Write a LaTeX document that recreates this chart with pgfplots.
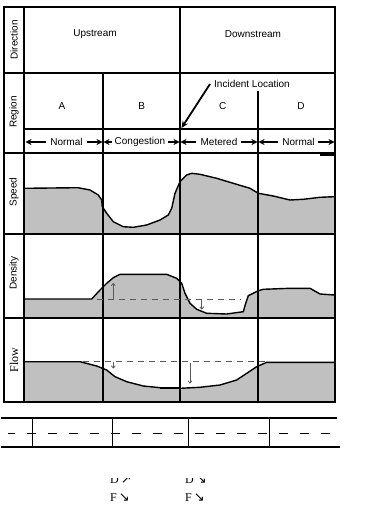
\documentclass[border=0pt]{standalone}
\usepackage{pgfplots}
\pgfplotsset{compat=1.18}
\usepackage{fontspec}
\setmainfont{Liberation Sans}
\newfontfamily\serif{Liberation Serif}
\newfontfamily\dejavu{DejaVu Sans}
\usetikzlibrary{arrows.meta}
\definecolor{fillgray}{RGB}{192,192,192}
\definecolor{arrgray}{RGB}{90,90,90}
\begin{document}
\begin{tikzpicture}
\begin{axis}[width=367pt,height=511pt,scale only axis,
  xmin=0,xmax=367,ymin=0,ymax=511,y dir=reverse,hide axis,clip=false]
\path (rel axis cs:0,0) rectangle (rel axis cs:1,1);
% ---------- Speed ----------
\addplot[fill=fillgray,draw=none] coordinates {
(25,188.3) (78,187.7) (90,190) (98.3,195) (101.7,200) (102.3,206.7) (106.7,213.3)
(113.3,221.7) (123.3,226.7) (133.3,227.3) (146.7,225) (160,220) (168.3,215)
(171.7,208.3) (175,193.3) (180,181.7) (186.7,175) (191.7,173.3) (200,174.3)
(216.7,178.3) (233.3,183.3) (250,188.3) (258.3,193.3) (273.3,196) (290,200)
(303.3,199.3) (320,197.3) (334.3,196.7) (334.3,234) (25,234)} -- cycle;
% ---------- Density ----------
\addplot[fill=fillgray,draw=none] coordinates {
(25,299) (91.7,299) (100,290) (106.7,283.3) (113.3,277.7) (120,274.3) (166.7,274.3)
(176.7,278.3) (181.7,283.3) (185,293.3) (190,303.3) (196.7,309.3) (206.7,313.3)
(226.7,314) (243.3,311.7) (245.7,303.3) (248.3,295.7) (258.3,290.7) (263.3,289.3)
(290,288.3) (310,288.3) (320,294) (334.3,295) (334.3,318) (25,318)} -- cycle;
% ---------- Flow ----------
\addplot[fill=fillgray,draw=none] coordinates {
(25,361.7) (80,361.7) (96.7,366) (106.7,370) (115,376.7) (126.7,381.7) (143.3,386)
(160,387.7) (180,388.3) (200,387.3) (220,385) (236.7,380) (246.7,373.3)
(256.7,366.7) (266.7,362.3) (334.3,362.3) (334.3,402) (25,402)} -- cycle;
% ---------- grid ----------
\draw[line width=1.6pt] (axis cs:4,7) rectangle (axis cs:335,402);
\draw[line width=1.3pt] (axis cs:24,7) -- (axis cs:24,402);
\draw[line width=1.3pt] (axis cs:4,73) -- (axis cs:335,73);
\draw[line width=1.3pt] (axis cs:4,153) -- (axis cs:335,153);
\draw[line width=1.3pt] (axis cs:4,234) -- (axis cs:335,234);
\draw[line width=1.3pt] (axis cs:4,318) -- (axis cs:335,318);
\draw[line width=1.2pt] (axis cs:24,129) -- (axis cs:335,129);
\draw[line width=2pt] (axis cs:180,7) -- (axis cs:180,402);
\draw[line width=1.1pt] (axis cs:103,73) -- (axis cs:103,402);
\draw[line width=1.1pt] (axis cs:258,91) -- (axis cs:258,402);
\draw[line width=2pt] (axis cs:320,155) -- (axis cs:334,155);
% ---------- curves ----------
\addplot[black,line width=1.4pt,mark=none] coordinates {
(25,188.3) (78,187.7) (90,190) (98.3,195) (101.7,200) (102.3,206.7) (106.7,213.3)
(113.3,221.7) (123.3,226.7) (133.3,227.3) (146.7,225) (160,220) (168.3,215)
(171.7,208.3) (175,193.3) (180,181.7) (186.7,175) (191.7,173.3) (200,174.3)
(216.7,178.3) (233.3,183.3) (250,188.3) (258.3,193.3) (273.3,196) (290,200)
(303.3,199.3) (320,197.3) (334.3,196.7)};
\addplot[black,line width=1.4pt,mark=none] coordinates {
(25,299) (91.7,299) (100,290) (106.7,283.3) (113.3,277.7) (120,274.3) (166.7,274.3)
(176.7,278.3) (181.7,283.3) (185,293.3) (190,303.3) (196.7,309.3) (206.7,313.3)
(226.7,314) (243.3,311.7) (245.7,303.3) (248.3,295.7) (258.3,290.7) (263.3,289.3)
(290,288.3) (310,288.3) (320,294) (334.3,295)};
\addplot[black,line width=1.4pt,mark=none] coordinates {
(25,361.7) (80,361.7) (96.7,366) (106.7,370) (115,376.7) (126.7,381.7) (143.3,386)
(160,387.7) (180,388.3) (200,387.3) (220,385) (236.7,380) (246.7,373.3)
(256.7,366.7) (266.7,362.3) (334.3,362.3)};
\addplot[black,line width=2.2pt,mark=none] coordinates {(160,388) (180,388)};
% ---------- dashed reference lines and arrows ----------
\addplot[arrgray,line width=0.9pt,dash pattern=on 6pt off 5pt,mark=none] coordinates {(96.7,299.3) (240,299.3)};
\addplot[arrgray,line width=0.9pt,dash pattern=on 6pt off 5pt,mark=none] coordinates {(83.3,361) (270,361)};
\draw[arrgray,line width=0.8pt,-{To[length=3pt,width=4.5pt]}] (axis cs:113.3,299) -- (axis cs:113.3,283);
\draw[arrgray,line width=0.8pt,-{To[length=3pt,width=4.5pt]}] (axis cs:201.7,299.5) -- (axis cs:201.7,309.5);
\draw[arrgray,line width=0.8pt,-{To[length=3pt,width=4.5pt]}] (axis cs:113.3,361.5) -- (axis cs:113.3,368.5);
\draw[arrgray,line width=0.8pt,-{To[length=3pt,width=4.5pt]}] (axis cs:190,363) -- (axis cs:190,383.5);
% ---------- texts ----------
\node[rotate=90,font=\fontsize{10}{12}\selectfont] at (axis cs:14,40) {Direction};
\node[rotate=90,font=\fontsize{10}{12}\selectfont] at (axis cs:14,112) {Region};
\node[rotate=90,font=\fontsize{10}{12}\selectfont] at (axis cs:14,192) {Speed};
\node[rotate=90,font=\fontsize{10}{12}\selectfont] at (axis cs:14,273) {Density};
\node[rotate=90,font=\serif\fontsize{12}{14}\selectfont] at (axis cs:14,360) {Flow};
\node[font=\fontsize{10}{12}\selectfont] at (axis cs:95,34.5) {Upstream};
\node[font=\fontsize{10}{12}\selectfont] at (axis cs:253,34.5) {Downstream};
\node[font=\fontsize{10}{12}\selectfont] at (axis cs:62,106) {A};
\node[font=\fontsize{10}{12}\selectfont] at (axis cs:141.7,106) {B};
\node[font=\fontsize{10}{12}\selectfont] at (axis cs:222.7,106) {C};
\node[font=\fontsize{10}{12}\selectfont] at (axis cs:301,106) {D};
\node[font=\fontsize{10}{12}\selectfont,fill=white,inner sep=1pt] at (axis cs:252,84) {Incident Location};
\draw[line width=1.8pt,-{Stealth[length=7pt,width=6pt]}] (axis cs:210,84) -- (axis cs:181.5,128);
% arrow row
\node[font=\fontsize{10}{12}\selectfont] at (axis cs:66.5,142.3) {Normal};
\node[font=\fontsize{10}{12}\selectfont] at (axis cs:140,142.3) {Congestion};
\node[font=\fontsize{10}{12}\selectfont] at (axis cs:219,142.3) {Metered};
\node[font=\fontsize{10}{12}\selectfont] at (axis cs:298.5,142.3) {Normal};
\begin{scope}[line width=1.4pt]
\draw[-{Stealth[length=6pt,width=6pt]}] (axis cs:46,142) -- (axis cs:25.5,142);
\draw[-{Stealth[length=6pt,width=6pt]}] (axis cs:87,142) -- (axis cs:102.5,142);
\draw[-{Stealth[length=6pt,width=6pt]}] (axis cs:112,142) -- (axis cs:103.5,142);
\draw[-{Stealth[length=6pt,width=6pt]}] (axis cs:168,142) -- (axis cs:179.5,142);
\draw[-{Stealth[length=6pt,width=6pt]}] (axis cs:196,142) -- (axis cs:180.5,142);
\draw[-{Stealth[length=6pt,width=6pt]}] (axis cs:241,142) -- (axis cs:257.5,142);
\draw[-{Stealth[length=6pt,width=6pt]}] (axis cs:278,142) -- (axis cs:258.5,142);
\draw[-{Stealth[length=6pt,width=6pt]}] (axis cs:318,142) -- (axis cs:334.5,142);
\end{scope}
% ---------- road ----------
\draw[line width=1.6pt] (axis cs:1,418) -- (axis cs:337,418);
\draw[line width=1.6pt] (axis cs:1,447) -- (axis cs:340,447);
\addplot[black,line width=0.8pt,dash pattern=on 9pt off 12pt,dash phase=2pt,mark=none] coordinates {(8,433) (335,433)};
\draw[line width=0.8pt] (axis cs:32,418) -- (axis cs:32,447);
\draw[line width=0.8pt] (axis cs:112,418) -- (axis cs:112,447);
\draw[line width=0.8pt] (axis cs:188,418) -- (axis cs:188,447);
\draw[line width=0.8pt] (axis cs:269,418) -- (axis cs:269,447);
% ---------- bottom notes ----------
\node[anchor=base west,inner sep=0pt,font=\serif\fontsize{12}{14}\selectfont] at (axis cs:110,483) {D\,{\dejavu\fontsize{13}{14}\selectfont ↗}};
\node[anchor=base west,inner sep=0pt,font=\serif\fontsize{12}{14}\selectfont] at (axis cs:185,483) {D\,{\dejavu\fontsize{13}{14}\selectfont ↘}};
\fill[white] (axis cs:100,462) rectangle (axis cs:215,477.5);
\node[anchor=base west,inner sep=0pt,font=\serif\fontsize{12}{14}\selectfont] at (axis cs:110,501) {F\,{\dejavu\fontsize{13}{14}\selectfont ↘}};
\node[anchor=base west,inner sep=0pt,font=\serif\fontsize{12}{14}\selectfont] at (axis cs:185,501) {F\,{\dejavu\fontsize{13}{14}\selectfont ↘}};
\end{axis}
\end{tikzpicture}
\end{document}
